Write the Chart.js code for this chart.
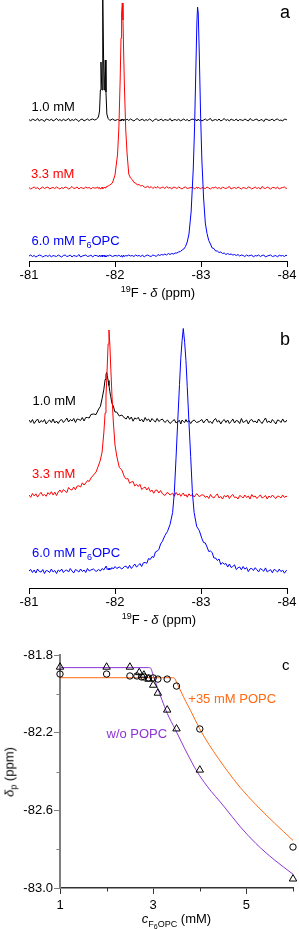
<!DOCTYPE html>
<html><head><meta charset="utf-8">
<script src="https://cdn.jsdelivr.net/npm/chart.js@4.4.0/dist/chart.umd.min.js"></script>
<style>
html,body{margin:0;padding:0;background:#fff;}
#wrap{position:relative;width:299px;height:929px;overflow:hidden;font-family:'Liberation Sans',Arial,Helvetica,sans-serif;}
canvas{position:absolute;left:0;}
.t{position:absolute;white-space:nowrap;font-size:13px;line-height:13px;color:#000;}
.s{position:relative;top:3px;font-size:9px;line-height:0;}
.u{position:relative;top:-5px;font-size:9px;line-height:0;}
</style></head><body>
<div id="wrap">
<canvas id="ca" width="299" height="300" style="top:0px"></canvas>
<canvas id="cb" width="299" height="330" style="top:300px"></canvas>
<canvas id="cc" width="299" height="299" style="top:630px"></canvas>

<div class="t" style="left:280px;top:3px;font-size:18px;line-height:18px">a</div>
<div class="t" style="left:31.5px;top:100px">1.0 mM</div>
<div class="t" style="left:31px;top:167.3px;color:#ff0000">3.3 mM</div>
<div class="t" style="left:31.5px;top:234px;color:#0000ff">6.0 mM F<span class="s">6</span>OPC</div>
<div class="t" style="left:158px;top:286px;transform:translateX(-50%)"><span class="u">19</span>F - <i>δ</i> (ppm)</div>

<div class="t" style="left:280px;top:329.8px;font-size:18px;line-height:18px">b</div>
<div class="t" style="left:32.5px;top:394px">1.0 mM</div>
<div class="t" style="left:32px;top:467.3px;color:#ff0000">3.3 mM</div>
<div class="t" style="left:32px;top:545.7px;color:#0000ff">6.0 mM F<span class="s">6</span>OPC</div>
<div class="t" style="left:159px;top:613px;transform:translateX(-50%)"><span class="u">19</span>F - <i>δ</i> (ppm)</div>

<div class="t" style="left:282px;top:656.6px;font-size:15px;line-height:15px">c</div>
<div class="t" style="left:188.3px;top:692.3px;color:#ff6a13">+35 mM POPC</div>
<div class="t" style="left:106.5px;top:727.3px;color:#8d34d6">w/o POPC</div>
<div class="t" style="left:176.5px;top:912px;transform:translateX(-50%)"><i>c</i><span class="s" style="top:4px">F<span style="position:relative;top:2px;font-size:7px">6</span>OPC</span> (mM)</div>
<div class="t" style="left:9px;top:772px;transform:translate(-50%,-50%) rotate(-90deg)"><i>δ</i><span class="s">p</span> (ppm)</div>
</div>
<script>
// ---------- Panel a: 19F spectra without POPC ----------
const ppmA = [-81.00,-81.02,-81.04,-81.06,-81.08,-81.10,-81.12,-81.14,-81.16,-81.18,-81.20,-81.22,-81.24,-81.26,-81.28,-81.30,-81.32,-81.34,-81.36,-81.38,-81.40,-81.42,-81.44,-81.46,-81.48,-81.50,-81.52,-81.54,-81.56,-81.58,-81.60,-81.62,-81.64,-81.66,-81.68,-81.70,-81.72,-81.74,-81.76,
 -81.78,-81.80,-81.81,-81.82,-81.83,-81.837,-81.843,-81.849,-81.855,-81.860,-81.866,-81.873,-81.880,-81.887,-81.895,-81.905,-81.92,-81.94,
 -81.97,-82.00,-82.03,
 -82.045,-82.06,-82.07,-82.077,-82.085,-82.093,-82.10,-82.11,-82.125,-82.14,
 -82.16,-82.18,-82.20,-82.22,-82.24,-82.26,-82.28,-82.30,-82.32,-82.34,-82.36,-82.38,-82.40,-82.42,-82.44,-82.46,-82.48,-82.50,-82.52,-82.54,-82.56,-82.58,-82.60,-82.62,-82.64,-82.66,-82.68,-82.70,-82.72,-82.74,-82.76,-82.78,-82.80,-82.82,-82.84,-82.86,-82.885,
 -82.91,-82.925,-82.94,-82.952,-82.96,-82.968,-82.98,-82.995,-83.01,-83.03,
 -83.05,-83.07,-83.09,-83.11,-83.13,-83.15,-83.17,-83.19,-83.21,-83.23,-83.25,-83.27,-83.29,-83.31,-83.33,-83.35,-83.37,-83.39,-83.41,-83.43,-83.45,-83.47,-83.49,-83.51,-83.53,-83.55,-83.57,-83.59,-83.61,-83.63,-83.65,-83.67,-83.69,-83.71,-83.73,-83.75,-83.77,-83.79,-83.81,-83.83,-83.85,-83.87,-83.89,-83.91,-83.93,-83.95,-83.97,-83.99,-84.00];
const spec10A = [0.5,-1,1,0,-0.5,1.5,-1,0.5,0,-1.5,1,0.5,-0.5,1,-1,0,1.5,-0.5,0.5,-1,1,-0.5,0,1.5,-1,0.5,-0.5,1,0,-1.5,0.5,1,-1,0,1,-0.5,0.5,1,0,
 0.5,2,4,9,30,58,40,30,70,125,70,30,40,60,28,6,1.5,-0.5,
 1,-0.5,0.5,
 0,-1,0.5,-0.5,1,0,-1,0.5,-0.5,1,
 -0.5,1,0,-1,0.5,1.5,-0.5,0,1,-1,0.5,-0.5,1,0,-1.5,0.5,1,-0.5,0,1,-1,0.5,0,-0.5,1.5,-1,0,0.5,-0.5,1,-1,0,1,-0.5,0.5,-1,0.5,
 1,-0.5,0.5,-1,0,1,-0.5,0.5,-1,0,
 1,-0.5,0.5,1.5,-1,0,0.5,-0.5,1,-1,0,1.5,-0.5,0.5,-1,1,0,-0.5,1,-1,0.5,0,-0.5,1,0,-1,1.5,0,-0.5,0.5,1,-1,0,0.5,-1.5,1,0.5,-0.5,0,1,-1,0.5,1,-0.5,0,-1,1,0.5,0];
const spec33A = [0.5,-1,0,1,-0.5,0.5,-1.5,0,1,-0.5,0.5,1,-1,0,0.5,-0.5,1,0,-1,0.5,-0.5,1,0.5,-1,0,1.5,-0.5,0,1,-1,0.5,0,-0.5,1,0,0.5,-1,0.5,0,
 0,1,-0.5,0.5,-1,0,0.5,-0.5,1,0,-0.5,0.5,1,0,1,1.5,2,3,
 5,13,34,
 60,108,150,175,185,168,138,100,58,35,
 14,10,8.5,5.5,5,3,3.5,2,2.5,1,0.5,2,0,1.5,-0.5,1,0,1.5,-0.5,0.5,1,-0.5,1.5,0,0.5,-1,1,0.5,-0.5,1,0,-1,0.5,1,-0.5,0,0.5,
 0.5,-1,0,1,-0.5,0.5,0,-1,0.5,0,
 -0.5,1,0,-1,0.5,0,1,-0.5,0.5,-1,1,0,-0.5,0.5,1.5,-1,0,0.5,-0.5,1,0,-1,0.5,0,-0.5,1,0.5,-1,0,1,-0.5,0.5,-1,1.5,0,-0.5,1,0,-1,0.5,0.5,-0.5,1,-1,0,0.5,1,-0.5,0];
const spec60A = [0,1,-0.5,0.5,-1,0,1,0.5,-1,0,0.5,-0.5,1,-1,0.5,0,-0.5,1,0,-1,0.5,1,-0.5,0,1,-1,0.5,0,-0.5,1.5,-1,0,0.5,1,-0.5,0,1,-1,0.5,
 0.5,0,-1,1,0,-0.5,0.5,1,-1,0,0.5,-0.5,1,0,-1,0.5,0,1,
 -0.5,0.5,0,
 1,-0.5,0,0.5,-1,0,1,-0.5,0.5,0,
 1,0,0.5,-0.5,1,0,0.5,-0.5,1,-1,0.5,1,0,-0.5,1,0.5,-0.5,1.5,0.5,1.5,1,2,1,2.5,1.5,2.5,2,3,3,4,4.5,6,7,9.5,14,22,44,
 87,128,186,233,249,243,203,142,96,58,
 33,22.5,15.5,12,8,7.5,5,5,3.5,4,2.5,3,1.5,2.5,1.5,2,1,1.5,0.5,1.5,0,1,0.5,-0.5,1,0,0.5,1,-1,0.5,0,1,-0.5,0.5,1,-1,0,0.5,1,-0.5,0,0.5,-1,1,0,0.5,-0.5,1,0];

// ---------- Panel b: 19F spectra with 35 mM POPC ----------
const ppmB = [-81.00,-81.02,-81.04,-81.06,-81.08,-81.10,-81.12,-81.14,-81.16,-81.18,-81.20,-81.22,-81.24,-81.26,-81.28,-81.30,-81.32,-81.34,-81.36,-81.38,-81.40,-81.42,-81.44,-81.46,-81.48,-81.50,-81.52,-81.54,-81.56,-81.58,-81.60,-81.62,-81.64,-81.66,-81.68,-81.70,-81.72,
 -81.75,-81.78,-81.81,-81.83,-81.85,-81.87,-81.885,-81.895,-81.903,-81.91,-81.92,-81.93,-81.94,-81.95,-81.965,-81.98,-82.00,-82.02,-82.05,-82.08,-82.11,
 -82.13,-82.15,-82.17,-82.19,-82.21,-82.23,-82.25,-82.27,-82.29,-82.31,-82.33,-82.35,-82.37,-82.39,-82.41,-82.43,-82.45,-82.47,-82.49,-82.51,-82.53,-82.55,
 -82.58,-82.61,-82.64,-82.67,-82.69,-82.71,-82.73,-82.75,-82.765,-82.78,-82.794,-82.81,-82.825,-82.84,-82.86,-82.88,-82.90,-82.92,-82.95,-82.98,-83.01,
 -83.03,-83.05,-83.07,-83.09,-83.11,-83.13,-83.15,-83.17,-83.19,-83.21,-83.23,-83.25,-83.27,-83.29,-83.31,-83.33,-83.35,-83.37,-83.39,-83.41,-83.43,-83.45,-83.47,-83.49,-83.51,-83.53,-83.55,-83.57,-83.59,-83.61,-83.63,-83.65,-83.67,-83.69,-83.71,-83.73,-83.75,-83.77,-83.79,-83.81,-83.83,-83.85,-83.87,-83.89,-83.91,-83.93,-83.95,-83.97,-83.99,-84.00];
const spec10B = [1.5,-1,2,-2,0.5,2.5,-1.5,1,-0.5,2,-2.5,0,1.5,-1,2.5,-1.5,0.5,-2,1,2,-1,1,3.5,-0.5,2,0.5,3,-1,2.5,2,1,4,0.5,4,4,3.5,7,
 7.5,7,12.5,15,23,32,42,47,49,46,41,36,30,25,18,15.5,9.5,9.5,5.5,6.5,3.5,
 2.5,5.5,2.2,4.5,0.3,3.6,2.4,4.2,0.5,2.3,-0.5,4,1,2.5,-0.5,3,1,-0.5,3,0,1.5,2.5,
 -1,1.5,-2,0.5,2,-1.5,0,1,-2.5,1.5,0,-1,2,-0.5,1,-2,0.5,1.5,-1,0,2,
 -1.5,1,2.5,-1,0,-2,1.5,3,-0.5,1,-2.5,0.5,2,-1,1.5,-2,0,2.5,-1.5,1,0.5,-2,3,-1,0,1.5,-2.5,1,2,-0.5,0.5,-1.5,2.5,0,-2,1,3.5,-1,0.5,-1.5,2,0,-2.5,1.5,1,-1,2.5,-0.5,0,1.5];
const spec33B = [2,-0.3,3.5,1.1,3.2,-0.1,2.5,4.7,1.3,2.5,0.7,4.4,2.5,5.3,2,4.8,1.5,5,7,4.5,7.5,5.7,4.5,9.5,7.5,7,10,7.2,11,11.2,10,14.2,12,14,16.5,15.5,19,
 22,25,32,37,45,64,84,101,116,131,153,167,153,131,101,76,52,41,29.5,27,20,
 18,18.5,13.7,15,15.5,11,12.7,10.5,12.7,7.5,9,10,7,9.5,5.5,7,3.7,6.8,6.8,4,6.5,3.5,
 1.5,4.8,2,3.8,0.7,4.6,1.9,3.3,0.7,2.6,4,1,2.4,-0.2,3.2,1.1,2.5,0,3.4,0.3,2.2,
 2,-0.5,1,-1.5,2.5,0,-1,1.5,3,-1,0.5,-2,1.5,0,2,-1.5,1,2.5,-0.5,0,-2,1.5,0.5,-1,2,-0.5,1,-2,2.5,0,1,-1.5,0.5,2,-1,0,1.5,-2,1,-0.5,2,0,-1.5,1,0.5,-1,2,-0.5,1,0];
const spec60B = [1.5,3,0,2.5,-0.5,3.5,1,0.5,3,-1,2,1.5,0,3.5,0.5,2,-1,2.5,1,3.5,0,2,2.5,0.5,4,1.5,-0.5,3,2,0.5,3.5,1,2.5,0,4,1.5,2.5,
 3.5,1,3,1.5,4,2.5,5,6.5,5,3,4,2.5,4.5,3,5,3.5,6,4,5.5,3.5,6,
 6.3,4,7.2,4,6.2,8.5,5.5,7,9,6,9.7,10,9.2,14,13,16,15,20.5,21.5,23,28.5,31,
 37,41,48,60,80,115,152,188,214,232,244,230,212,186,150,116,80,60,46,42,34,
 30,29.5,25.5,21,21.5,20,14.5,14.5,12,13.5,8,10,8.2,9,5.5,8.5,5,6,7.7,3,4.7,5.5,2.7,6,3.3,5,0.9,3.7,4.1,2,4.8,2.7,0.6,4,2.8,1.2,4.6,0.5,1.9,2.8,-0.3,3.1,2.1,0.5,3.4,0.9,2.3,-0.7,1.7,2.7];

const ppmTicks = [-81, -82, -83, -84];

// ---------- Panel c: chemical shift vs concentration ----------
const triConc  = [1, 2.0, 2.5, 2.7, 2.8, 2.9, 3.0, 3.1, 3.3, 3.5, 4.0, 6.0];
const triShift = [-81.862, -81.862, -81.862, -81.89, -81.903, -81.924, -81.955, -81.996, -82.083, -82.18, -82.392, -82.953];
const circConc  = [1, 2.0, 2.5, 2.65, 2.75, 2.8, 2.9, 3.0, 3.1, 3.3, 3.5, 4.0, 6.0];
const circShift = [-81.898, -81.898, -81.908, -81.908, -81.913, -81.913, -81.918, -81.918, -81.924, -81.924, -81.96, -82.181, -82.789];
const fitPurpleConc  = [1, 2.9, 2.94, 3.0, 3.1, 3.187, 3.3, 3.473, 3.6, 3.725, 3.94, 4.155, 4.512, 4.871, 5.2, 5.6, 6.0];
const fitPurpleShift = [-81.865, -81.865, -81.866, -81.905, -81.975, -82.03, -82.10, -82.183, -82.245, -82.305, -82.40, -82.475, -82.578, -82.685, -82.77, -82.855, -82.929];
const fitOrangeConc  = [1, 3.42, 3.46, 3.5, 3.6, 3.7, 3.8, 4.0, 4.2, 4.4, 4.6, 4.87, 5.2, 5.6, 6.0];
const fitOrangeShift = [-81.917, -81.917, -81.92, -81.94, -81.99, -82.04, -82.085, -82.181, -82.262, -82.333, -82.40, -82.483, -82.57, -82.665, -82.755];

// ---------- styling ----------
Chart.defaults.font.family = "'Liberation Sans', Arial, Helvetica, sans-serif";
Chart.defaults.font.size = 13;
Chart.defaults.color = '#000';

const BLACK = '#000000', RED = '#ff0000', BLUE = '#0000ff';
const ORANGE = '#ff6a13', PURPLE = '#8d34d6';

function spectrumChart(id, grid, traces, yMax, padTop, axisH) {
  return new Chart(document.getElementById(id), {
    type: 'line',
    data: {
      datasets: traces.map(t => ({
        data: grid.map((x, i) => ({ x: x, y: t.values[i] + t.offset })),
        borderColor: t.color, borderWidth: 1, pointRadius: 0, tension: 0, fill: false, order: t.order
      }))
    },
    options: {
      responsive: false, animation: false, events: [],
      layout: { padding: { left: 29, right: 12, top: padTop, bottom: 0 } },
      plugins: { legend: { display: false }, tooltip: { enabled: false } },
      scales: {
        x: {
          type: 'linear', reverse: true, min: -84, max: -81,
          afterFit: s => { s.height = axisH; },
          afterBuildTicks: s => { s.ticks = ppmTicks.map(v => ({ value: v })); },
          ticks: { color: '#000', font: { size: 13 }, padding: 1, maxRotation: 0, autoSkip: false, callback: v => String(v) },
          grid: { drawOnChartArea: false, drawTicks: true, tickLength: 6, tickColor: '#000', tickWidth: 1 },
          border: { display: true, color: '#000', width: 1 }
        },
        y: { display: false, min: 0, max: yMax }
      }
    }
  });
}

spectrumChart('ca', ppmA, [
  { values: spec10A, offset: 141, color: BLACK, order: 2 },
  { values: spec33A, offset: 73, color: RED, order: 1 },
  { values: spec60A, offset: 5, color: BLUE, order: 0 }
], 261, 0, 39);

spectrumChart('cb', ppmB, [
  { values: spec10B, offset: 166.5, color: BLACK, order: 2 },
  { values: spec33B, offset: 91, color: RED, order: 1 },
  { values: spec60B, offset: 15.5, color: BLUE, order: 0 }
], 268, 20, 42);

const zip = (xs, ys) => xs.map((x, i) => ({ x: x, y: ys[i] }));

const minorTicks = {
  id: 'minorTicks',
  afterDraw(chart) {
    const { ctx, chartArea } = chart;
    const xs = chart.scales.x, ys = chart.scales.y;
    ctx.save();
    ctx.lineWidth = 1;
    ys.ticks.forEach((t, i) => {
      if (i % 2 === 1) {
        const py = Math.round(ys.getPixelForValue(t.value)) + 0.5;
        ctx.strokeStyle = '#7f7f7f';
        ctx.beginPath(); ctx.moveTo(chartArea.left - 3.5, py); ctx.lineTo(chartArea.left, py); ctx.stroke();
      }
    });
    xs.ticks.forEach((t, i) => {
      if (i % 2 === 1) {
        const px = Math.round(xs.getPixelForValue(t.value)) + 0.5;
        ctx.strokeStyle = '#333';
        ctx.beginPath(); ctx.moveTo(px, chartArea.bottom); ctx.lineTo(px, chartArea.bottom + 3.5); ctx.stroke();
      }
    });
    ctx.restore();
  }
};

new Chart(document.getElementById('cc'), {
  type: 'scatter',
  data: {
    datasets: [
      { type: 'line', data: zip(fitOrangeConc, fitOrangeShift), borderColor: ORANGE, borderWidth: 1, pointRadius: 0, cubicInterpolationMode: 'monotone', fill: false, order: 3 },
      { type: 'line', data: zip(fitPurpleConc, fitPurpleShift), borderColor: PURPLE, borderWidth: 1, pointRadius: 0, cubicInterpolationMode: 'monotone', fill: false, order: 2 },
      { data: zip(triConc, triShift), pointStyle: 'triangle', pointRadius: 4.3, pointBorderColor: '#000', pointBackgroundColor: 'rgba(0,0,0,0)', pointBorderWidth: 1, borderColor: '#000', backgroundColor: 'rgba(0,0,0,0)', clip: false, order: 1 },
      { data: zip(circConc, circShift), pointStyle: 'circle', pointRadius: 3.2, pointBorderColor: '#000', pointBackgroundColor: 'rgba(0,0,0,0)', pointBorderWidth: 1, borderColor: '#000', backgroundColor: 'rgba(0,0,0,0)', clip: false, order: 0 }
    ]
  },
  options: {
    responsive: false, animation: false, events: [],
    layout: { padding: { left: 0, right: 6, top: 25, bottom: 0 } },
    plugins: { legend: { display: false }, tooltip: { enabled: false } },
    scales: {
      x: {
        type: 'linear', min: 1, max: 6,
        afterFit: s => { s.height = 41; },
        ticks: { stepSize: 1, color: '#000', font: { size: 13 }, padding: 4, maxRotation: 0, autoSkip: false,
                 callback: (v, i) => (i % 2 === 0 ? String(v) : '') },
        grid: { drawOnChartArea: false, drawTicks: true, tickLength: 6,
                tickColor: c => (c.index % 2 === 0 ? '#333' : 'rgba(0,0,0,0)'), tickWidth: 1 },
        border: { display: true, color: '#333', width: 1.5 }
      },
      y: {
        type: 'linear', min: -83.0, max: -81.8,
        afterFit: s => { s.width = 60; },
        ticks: { stepSize: 0.2, color: '#000', font: { size: 13 }, padding: 1, autoSkip: false,
                 callback: (v, i) => (i % 2 === 0 ? Number(v).toFixed(1) : '') },
        grid: { drawOnChartArea: false, drawTicks: true, tickLength: 6,
                tickColor: c => (c.index % 2 === 0 ? '#7f7f7f' : 'rgba(0,0,0,0)'), tickWidth: 1 },
        border: { display: true, color: '#7f7f7f', width: 2 }
      }
    }
  },
  plugins: [minorTicks]
});
</script>
</body></html>
